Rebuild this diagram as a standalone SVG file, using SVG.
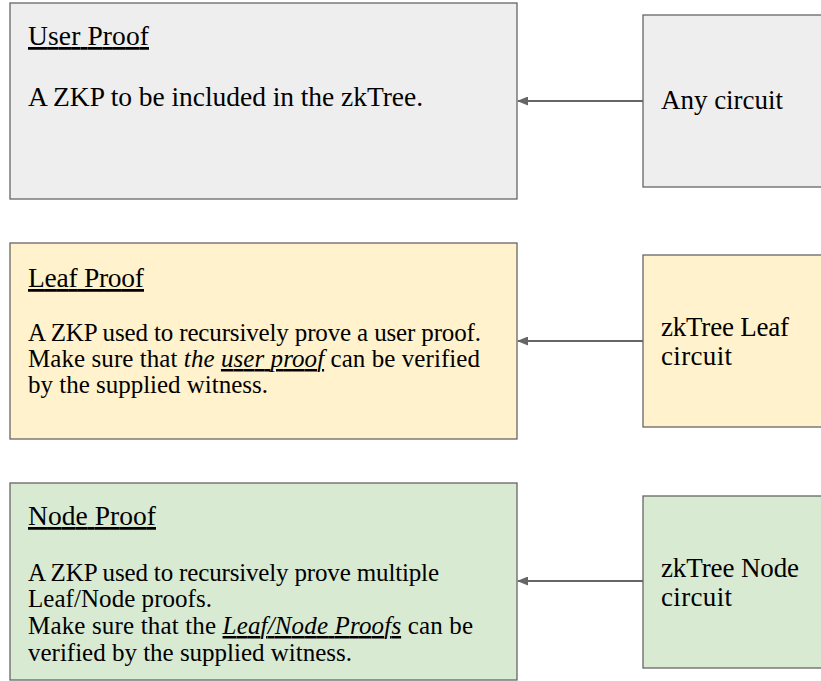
<svg xmlns="http://www.w3.org/2000/svg" width="821" height="681" viewBox="0 0 821 681">
<style>
.box{stroke:#666666;stroke-width:1.3}
.gray{fill:#eeeeee}.yellow{fill:#fff2cc}.green{fill:#d9ead3}
text{font-family:"Liberation Serif","DejaVu Serif",serif;font-size:25px;fill:#000000}
.big{font-size:27.5px}
.lbl{font-size:27px}
.u{text-decoration:underline}
.i{font-style:italic}
.conn{stroke:#666666;stroke-width:2;fill:none}
</style>
<defs>
<marker id="ah" markerWidth="11" markerHeight="9" refX="10" refY="4.5" orient="auto" markerUnits="userSpaceOnUse">
<path d="M0,0 L11,4.5 L0,9 Z" fill="#666666"/>
</marker>
</defs>
<rect width="821" height="681" fill="#ffffff"/>
<g id="user-proof">
<rect class="box gray" x="10" y="3" width="507" height="196"/>
<text x="28" y="45" class="big u" textLength="121" lengthAdjust="spacing">User Proof</text>
<text x="28" y="106" class="big" textLength="395" lengthAdjust="spacing">A ZKP to be included in the zkTree.</text>
</g>
<g id="any-circuit">
<rect class="box gray" x="643" y="15" width="190" height="172"/>
<text x="661" y="109" class="lbl" textLength="122" lengthAdjust="spacing">Any circuit</text>
</g>
<g id="leaf-proof">
<rect class="box yellow" x="10" y="243" width="507" height="196"/>
<text x="28" y="287" class="big u" textLength="116" lengthAdjust="spacing">Leaf Proof</text>
<text x="28" y="341" textLength="453" lengthAdjust="spacing">A ZKP used to recursively prove a user proof.</text>
<text x="28" y="367" textLength="452" lengthAdjust="spacing">Make sure that <tspan class="i">the </tspan><tspan class="i u">user proof</tspan> can be verified</text>
<text x="28" y="393" textLength="240" lengthAdjust="spacing">by the supplied witness.</text>
</g>
<g id="leaf-circuit">
<rect class="box yellow" x="643" y="255" width="190" height="172"/>
<text x="661" y="336" class="lbl" textLength="128" lengthAdjust="spacing">zkTree Leaf</text>
<text x="661" y="365" class="lbl" textLength="71" lengthAdjust="spacing">circuit</text>
</g>
<g id="node-proof">
<rect class="box green" x="10" y="483" width="507" height="197"/>
<text x="28" y="525" class="big u" textLength="128" lengthAdjust="spacing">Node Proof</text>
<text x="28" y="580.5" textLength="411" lengthAdjust="spacing">A ZKP used to recursively prove multiple</text>
<text x="28" y="607" textLength="184" lengthAdjust="spacing">Leaf/Node proofs.</text>
<text x="28" y="634" textLength="445" lengthAdjust="spacing">Make sure that the <tspan class="i u">Leaf/Node Proofs</tspan> can be</text>
<text x="28" y="660.5" textLength="324" lengthAdjust="spacing">verified by the supplied witness.</text>
</g>
<g id="node-circuit">
<rect class="box green" x="643" y="496" width="190" height="172"/>
<text x="661" y="576.5" class="lbl" textLength="138" lengthAdjust="spacing">zkTree Node</text>
<text x="661" y="606" class="lbl" textLength="71" lengthAdjust="spacing">circuit</text>
</g>
<g id="connectors">
<line class="conn" x1="643" y1="101" x2="518" y2="101" marker-end="url(#ah)"/>
<line class="conn" x1="643" y1="341" x2="518" y2="341" marker-end="url(#ah)"/>
<line class="conn" x1="643" y1="581" x2="518" y2="581" marker-end="url(#ah)"/>
</g>
</svg>
